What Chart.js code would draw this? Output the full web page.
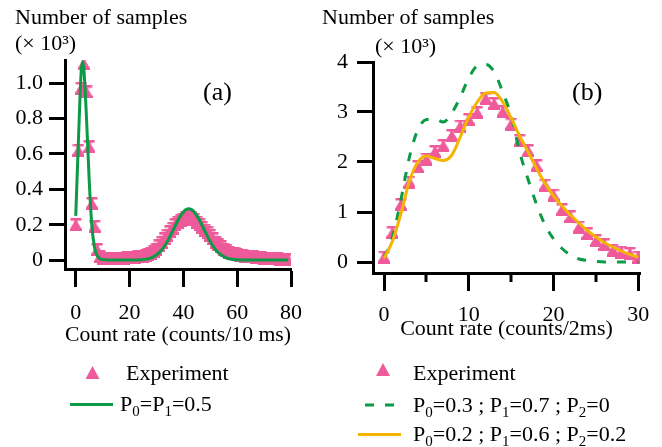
<!DOCTYPE html>
<html><head><meta charset="utf-8">
<script src="https://cdn.jsdelivr.net/npm/chart.js@4/dist/chart.umd.min.js"></script>
<style>
html,body{margin:0;padding:0;background:#fff;width:662px;height:447px;overflow:hidden}
canvas{position:absolute;left:0;top:0}
</style></head>
<body>
<canvas id="ca" width="662" height="447"></canvas>
<canvas id="cb" width="662" height="447"></canvas>
<script>
// ---------- Panel (a) data ----------
const ratesA = [0,1,2,3,4,5,6,7,8,9,10,11,12,13,14,15,16,17,18,19,20,21,22,23,24,25,26,27,28,29,30,31,32,33,34,35,36,37,38,39,40,41,42,43,44,45,46,47,48,49,50,51,52,53,54,55,56,57,58,59,60,61,62,63,64,65,66,67,68,69,70,71,72,73,74,75,76,77,78,79];
const experimentA = [0.20,0.62,0.97,1.11,0.95,0.64,0.32,0.19,0.06,0.02,
  0.012,0.010,0.010,0.010,0.010,0.010,0.010,0.012,0.012,0.013,
  0.013,0.015,0.016,0.018,0.020,0.022,0.027,0.033,0.040,0.050,
  0.060,0.080,0.100,0.120,0.140,0.160,0.180,0.200,0.215,0.225,
  0.230,0.240,0.245,0.240,0.230,0.215,0.200,0.185,0.170,0.155,
  0.140,0.120,0.100,0.087,0.075,0.062,0.052,0.045,0.040,0.035,
  0.030,0.027,0.025,0.023,0.021,0.020,0.018,0.016,0.015,0.013,
  0.012,0.011,0.010,0.009,0.008,0.007,0.006,0.006,0.005,0.005];
const fitRatesA = [0,1,2,2.5,3,4,5,6,7,8,9,10,11,12,13,14,15,16,17,18,19,20,21,22,23,24,25,26,27,28,29,30,31,32,33,34,35,36,37,38,39,40,41,42,43,44,45,46,47,48,49,50,51,52,53,54,55,56,57,58,59,60,61,62,63,64,65,66,67,68,69,70,71,72,73,74,75,76,77,78,79];
const fitA = [0.25,0.68,1.06,1.12,1.08,0.80,0.45,0.19,0.07,0.025,0.008,0.003,
  0.002,0.001,0.001,0.001,0.001,0.001,0.001,0.001,0.001,0.001,0.001,0.001,0.001,
  0.002,0.003,0.005,0.008,0.013,0.020,0.030,0.042,0.059,0.080,0.105,0.133,0.164,0.195,0.225,0.251,
  0.272,0.285,0.290,0.285,0.272,0.251,0.225,0.195,0.164,0.133,0.105,0.080,0.059,0.042,0.030,
  0.020,0.013,0.008,0.005,0.003,0.002,0.001,0.001,0.001,0.001,0.001,0.001,0.001,0.001,0.001,
  0.001,0.001,0.001,0.001,0.001,0.001,0.001,0.001,0.001,0.001];
const xTicksA = [0,20,40,60,80];
const xLabelsA = ['0','20','40','60','80'];
const yTicksA = [0,0.2,0.4,0.6,0.8,1.0];
const yLabelsA = ['0','0.2','0.4','0.6','0.8','1.0'];

// ---------- Panel (b) data ----------
const ratesB = [0,1,2,3,4,5,6,7,8,9,10,11,12,13,14,15,16,17,18,19,20,21,22,23,24,25,26,27,28,29,30];
const experimentB = [0.10,0.59,1.15,1.60,1.91,2.06,2.21,2.33,2.53,2.72,2.85,2.99,3.27,3.17,3.01,2.76,2.43,2.23,1.93,1.54,1.34,1.05,0.91,0.70,0.57,0.43,0.35,0.24,0.20,0.17,0.10];
const fitB1 = [0.08,0.50,1.25,2.10,2.65,2.85,2.86,2.80,2.98,3.30,3.68,3.92,3.95,3.80,3.40,2.92,2.20,1.65,1.15,0.74,0.46,0.27,0.14,0.06,0.03,0.01,0,0,0,0,0];
const fitB2 = [0.07,0.42,0.97,1.62,2.00,2.12,2.07,2.03,2.14,2.50,2.90,3.20,3.38,3.39,3.20,2.88,2.52,2.20,1.87,1.57,1.32,1.12,0.94,0.78,0.63,0.50,0.39,0.30,0.22,0.15,0.10];
const xTicksB = [0,10,20,30];
const xLabelsB = ['0','10','20','30'];
const xMinorB = [5,15,25];
const yTicksB = [0,1,2,3,4];
const yLabelsB = ['0','1','2','3','4'];

// ---------- styling ----------
const F = '"Liberation Serif","Times New Roman",serif';
const PINK = '#EE5A9A';
const GREEN = '#0B9A45';
const ORANGE = '#F5B400';

function makeMarker(color){
  const c = document.createElement('canvas');
  c.width = 12; c.height = 13;
  const g = c.getContext('2d');
  g.fillStyle = color;
  g.fillRect(0.5,0,11,2.5);
  g.fillRect(4.5,0,3,12);
  g.beginPath(); g.moveTo(6,1); g.lineTo(12,11); g.lineTo(0,11); g.closePath(); g.fill();
  g.fillRect(0,10.5,12,2.5);
  return c;
}
const marker = makeMarker(PINK);

function pts(xs, ys){ return xs.map((x,i)=>({x:x, y:ys[i]})); }

function drawRich(ctx, str, x, y, size){
  // "_d" -> subscript character
  let cx = x;
  for (let i=0;i<str.length;i++){
    let ch = str[i], sub = false;
    if (ch === '_' && i+1 < str.length){ sub = true; ch = str[++i]; }
    const s = sub ? Math.round(size*0.68) : size;
    ctx.font = s + 'px ' + F;
    ctx.fillText(ch, cx, sub ? y + size*0.24 : y);
    cx += ctx.measureText(ch).width;
  }
}

const decor = {
  id: 'decor',
  afterDraw(chart, args, o){
    const ctx = chart.ctx;
    ctx.save();
    ctx.fillStyle = '#000';
    ctx.textBaseline = 'alphabetic';
    ctx.textAlign = 'left';
    (o.texts||[]).forEach(t => drawRich(ctx, t.text, t.x, t.y, t.size));
    if (o.minorTicks){
      const xs = chart.scales.x, b = chart.chartArea.bottom;
      ctx.strokeStyle = '#000'; ctx.lineWidth = 3;
      o.minorTicks.forEach(v => {
        const px = Math.round(xs.getPixelForValue(v));
        ctx.beginPath(); ctx.moveTo(px, b); ctx.lineTo(px, b + o.minorLength); ctx.stroke();
      });
    }
    (o.legend||[]).forEach(r => {
      const ds = chart.data.datasets[r.index];
      ctx.save();
      if (ds.showLine === false){
        ctx.fillStyle = ds.backgroundColor;
        ctx.beginPath();
        ctx.moveTo(r.cx, r.cy - 7);
        ctx.lineTo(r.cx + 7, r.cy + 6);
        ctx.lineTo(r.cx - 7, r.cy + 6);
        ctx.closePath(); ctx.fill();
      } else {
        ctx.strokeStyle = ds.borderColor;
        ctx.lineWidth = ds.borderWidth;
        ctx.setLineDash(ds.borderDash || []);
        ctx.beginPath(); ctx.moveTo(r.x0, r.cy); ctx.lineTo(r.x1, r.cy); ctx.stroke();
      }
      ctx.restore();
      ctx.fillStyle = '#000';
      drawRich(ctx, ds.label, r.tx, r.ty, 22);
    });
    ctx.restore();
  }
};

function axisX(min, max, ticks, labels, height, title, pad){
  return {
    type:'linear', min:min, max:max,
    afterBuildTicks: s => { s.ticks = ticks.map(v => ({value:v})); },
    afterFit: s => { s.height = height; },
    grid:{display:true, drawOnChartArea:false, drawTicks:true, tickLength:18, tickWidth:3, tickColor:'#000'},
    border:{display:true, width:3, color:'#000'},
    ticks:{color:'#000', font:{family:F, size:22}, padding:pad, maxRotation:0, autoSkip:false,
      callback:(v,i)=>labels[i]},
    title:{display:true, text:title, color:'#000', font:{family:F, size:22}, padding:{top:0,bottom:0}}
  };
}
function axisY(min, max, ticks, labels, width, pad){
  return {
    type:'linear', min:min, max:max,
    afterBuildTicks: s => { s.ticks = ticks.map(v => ({value:v})); },
    afterFit: s => { s.width = width; },
    grid:{display:true, drawOnChartArea:false, drawTicks:true, tickLength:16, tickWidth:3, tickColor:'#000'},
    border:{display:true, width:3, color:'#000'},
    ticks:{color:'#000', font:{family:F, size:22}, padding:pad, autoSkip:false,
      callback:(v,i)=>labels[i]}
  };
}

new Chart(document.getElementById('ca'), {
  type:'line',
  data:{datasets:[
    {label:'Experiment', data:pts(ratesA, experimentA), showLine:false, pointStyle:marker,
     pointRadius:6, backgroundColor:PINK, borderColor:PINK, order:2},
    {label:'P_0=P_1=0.5', data:pts(fitRatesA, fitA), borderColor:GREEN, borderWidth:3,
     pointRadius:0, fill:false, cubicInterpolationMode:'monotone', order:1}
  ]},
  options:{
    responsive:false, animation:false, events:[],
    layout:{padding:{left:0, top:60, right:371, bottom:99}},
    scales:{
      x: axisX(-4, 80, xTicksA, xLabelsA, 79, 'Count rate (counts/10 ms)', 13),
      y: axisY(-0.05, 1.13, yTicksA, yLabelsA, 65, 6)
    },
    plugins:{
      legend:{display:false}, tooltip:{enabled:false},
      decor:{
        texts:[
          {text:'Number of samples', x:15, y:23.5, size:22},
          {text:'(× 10³)', x:15, y:49.5, size:22},
          {text:'(a)', x:203, y:100, size:26}
        ],
        legend:[
          {index:0, cx:92.5, cy:373, tx:126, ty:380},
          {index:1, x0:70, x1:113, cy:404.5, tx:120, ty:411}
        ]
      }
    }
  },
  plugins:[decor]
});

new Chart(document.getElementById('cb'), {
  type:'line',
  data:{datasets:[
    {label:'Experiment', data:pts(ratesB, experimentB), showLine:false, pointStyle:marker,
     pointRadius:6, backgroundColor:PINK, borderColor:PINK, order:3},
    {label:'P_0=0.3 ; P_1=0.7 ; P_2=0', data:pts(ratesB, fitB1), borderColor:GREEN, borderWidth:3,
     borderDash:[9,11], pointRadius:0, fill:false, cubicInterpolationMode:'monotone', order:2},
    {label:'P_0=0.2 ; P_1=0.6 ; P_2=0.2', data:pts(ratesB, fitB2), borderColor:ORANGE, borderWidth:3,
     pointRadius:0, fill:false, cubicInterpolationMode:'monotone', order:1}
  ]},
  options:{
    responsive:false, animation:false, events:[],
    layout:{padding:{left:323, top:62, right:22, bottom:105}},
    scales:{
      x: axisX(-1.3, 30.2, xTicksB, xLabelsB, 69, 'Count rate (counts/2ms)', 11),
      y: axisY(-0.22, 4.0, yTicksB, yLabelsB, 50, 9)
    },
    plugins:{
      legend:{display:false}, tooltip:{enabled:false},
      decor:{
        texts:[
          {text:'Number of samples', x:322, y:23.5, size:22},
          {text:'(× 10³)', x:375, y:52.5, size:22},
          {text:'(b)', x:572, y:100, size:26}
        ],
        minorTicks:xMinorB, minorLength:9,
        legend:[
          {index:0, cx:383, cy:370, tx:413, ty:380},
          {index:1, x0:365, x1:394, cy:405, tx:413, ty:412},
          {index:2, x0:358, x1:401, cy:434.5, tx:413, ty:441}
        ]
      }
    }
  },
  plugins:[decor]
});
</script>
</body></html>
